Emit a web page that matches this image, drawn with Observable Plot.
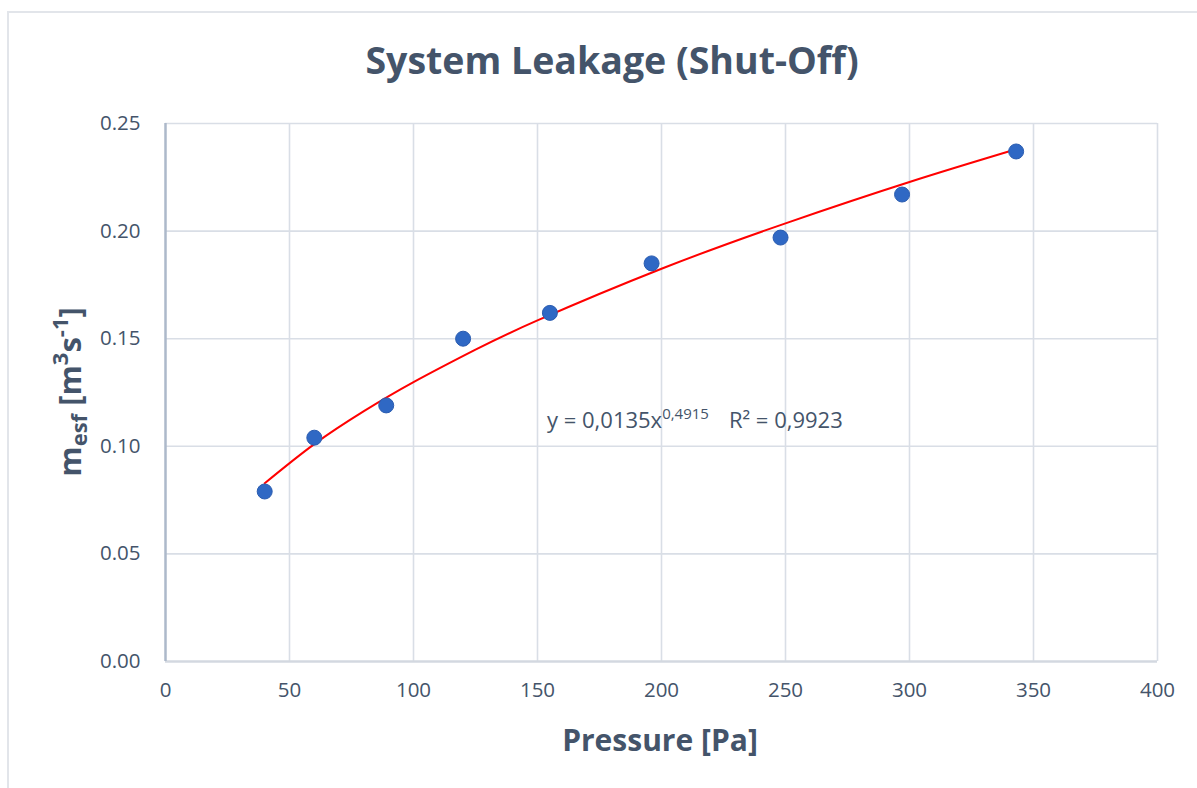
<!DOCTYPE html>
<html>
<head>
<meta charset="utf-8">
<script src="https://cdn.jsdelivr.net/npm/d3@7"></script>
<script src="https://cdn.jsdelivr.net/npm/@observablehq/plot@0.6"></script>
<style>
  html, body { margin: 0; padding: 0; background: #fff; overflow: hidden; }
  #wrap { position: relative; width: 1197px; height: 788px; font-family: "Open Sans", sans-serif; color: #44546a; }
  #frame { position: absolute; left: 7px; top: 11px; width: 1300px; height: 900px; border-top: 2px solid #e2e5ea; border-left: 2px solid #e2e5ea; }
  #title { position: absolute; left: 0; width: 1224px; top: 34px; text-align: center; font-size: 37.5px; font-weight: 700; white-space: nowrap; }
  #xlabel { position: absolute; left: 0; width: 1320px; top: 719px; text-align: center; font-size: 30px; font-weight: 700; white-space: nowrap; }
  #ylabel { position: absolute; left: 70px; top: 392px; transform: translate(-50%, -50%) rotate(-90deg); font-size: 31px; font-weight: 700; white-space: nowrap; }
  #ylabel sub { font-size: 22px; vertical-align: -6px; }
  #ylabel sup { font-size: 22px; vertical-align: 13px; line-height: 0; }
  #eq { position: absolute; left: 547px; top: 404px; font-size: 22px; white-space: nowrap; }
  #eq sup { font-size: 15px; vertical-align: 9px; line-height: 0; }
  #eq .gap { display: inline-block; width: 20px; }
  #plot { position: absolute; left: 0; top: 0; }
</style>
</head>
<body>
<div id="wrap">
  <div id="frame"></div>
  <div id="plot"></div>
  <div id="title">System Leakage (Shut-Off)</div>
  <div id="xlabel">Pressure [Pa]</div>
  <div id="ylabel">m<sub>esf</sub> [m<sup>3</sup>s<sup>-1</sup>]</div>
  <div id="eq">y = 0,0135x<sup>0,4915</sup><span class="gap"></span>R² = 0,9923</div>
</div>
<script>
// Measured points
const pressure = [40, 60, 89, 120, 155, 196, 248, 297, 343];
const flow = [0.079, 0.104, 0.119, 0.150, 0.162, 0.185, 0.197, 0.217, 0.237];
// Trend line
const trendX = [40, 60, 80, 100, 125, 150, 200, 250, 300, 343];
const trendY = [0.0828, 0.1010, 0.1163, 0.1298, 0.1449, 0.1585, 0.1825, 0.2036, 0.2228, 0.2380];
// Ticks
const xTicks = [0, 50, 100, 150, 200, 250, 300, 350, 400];
const yTicks = [0, 0.05, 0.10, 0.15, 0.20, 0.25];

const points = pressure.map((p, i) => ({p, f: flow[i]}));
const trend = trendX.map((x, i) => ({x, y: trendY[i]}));

const chart = Plot.plot({
  width: 1197,
  height: 788,
  marginLeft: 165,
  marginRight: 40,
  marginTop: 123,
  marginBottom: 127,
  x: {domain: [0, 400]},
  y: {domain: [0, 0.25]},
  style: {fontFamily: "'Open Sans', sans-serif", fontSize: "20.5px", color: "#44546a", background: "transparent", overflow: "visible"},
  marks: [
    Plot.gridX(xTicks.slice(1), {stroke: "#d9dee6", strokeOpacity: 1, strokeWidth: 1.6}),
    Plot.gridY(yTicks.slice(1), {stroke: "#d9dee6", strokeOpacity: 1, strokeWidth: 1.6}),
    Plot.ruleY([0], {stroke: "#d3d8e0", strokeWidth: 2.5}),
    Plot.ruleX([0], {stroke: "#adb9ca", strokeWidth: 2.5}),
    Plot.axisX(xTicks, {tickSize: 0, tickPadding: 21, label: null, fontSize: 20.5}),
    Plot.axisY(yTicks, {tickSize: 0, tickPadding: 25, label: null, fontSize: 20.5, tickFormat: d3.format(".2f")}),
    Plot.line(trend, {x: "x", y: "y", stroke: "#ff0000", strokeWidth: 2, curve: "natural"}),
    Plot.dot(points, {x: "p", y: "f", r: 7.5, fill: "#2f68c4", stroke: "#2a5cb0", strokeWidth: 1})
  ]
});
document.getElementById("plot").appendChild(chart);
</script>
</body>
</html>
